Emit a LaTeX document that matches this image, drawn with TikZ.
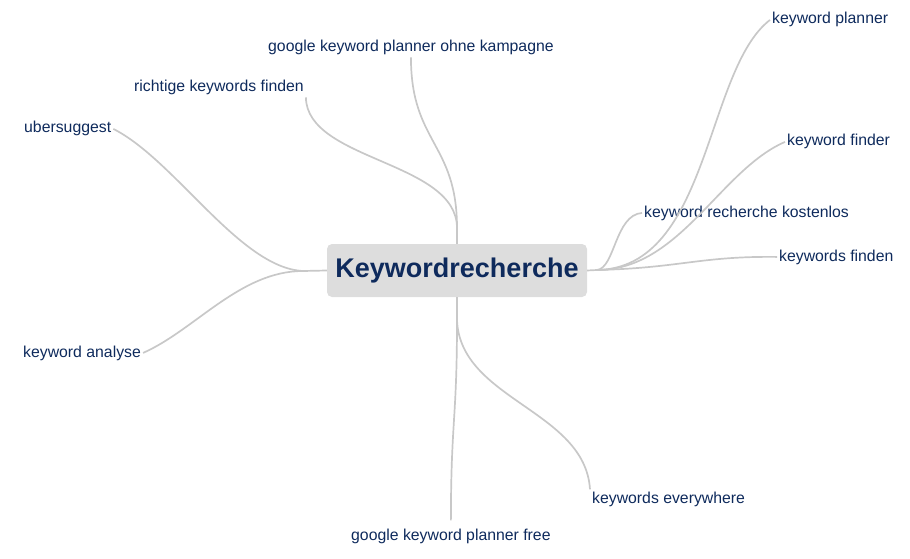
\documentclass[tikz,border=0pt]{standalone}
\usepackage{fontspec}
\setmainfont{Liberation Sans}
\definecolor{navy}{RGB}{14,42,92}
\definecolor{linkgray}{RGB}{200,200,200}
\definecolor{boxgray}{RGB}{221,221,221}
\begin{document}
\begin{tikzpicture}[x=1pt,y=-1pt,
  lbl/.style={text=navy,font=\fontsize{15.8}{18}\selectfont,inner sep=2pt,anchor=base west},
  link/.style={draw=linkgray,line width=1.7pt},
  root/.style={fill=boxgray,rounded corners=5pt,minimum width=260pt,minimum height=53pt,
    inner sep=0pt,text=navy,font=\fontsize{27}{30}\selectfont\bfseries}]
\useasboundingbox (0,0) rectangle (910,559);
\node[root] (root) at (457,270.5) {\raisebox{-1pt}{Keywordrecherche}};
% labels
\node[lbl] (ok)  at (266,52)  {google keyword planner ohne kampagne};
\node[lbl] (rk)  at (132,92)  {richtige keywords finden};
\node[lbl] (ub)  at (22,133)  {ubersuggest};
\node[lbl] (ka)  at (21,357)  {keyword analyse};
\node[lbl] (fr)  at (349,540) {google keyword planner free};
\node[lbl] (ev)  at (590,503) {keywords everywhere};
\node[lbl] (kp)  at (770,24)  {keyword planner};
\node[lbl] (kf)  at (785,146) {keyword finder};
\node[lbl] (krk) at (642,217) {keyword recherche kostenlos};
\node[lbl] (kwf) at (777,261) {keywords finden};
% junctions
\coordinate (jt) at (457,228);
\coordinate (jb) at (457,320);
\coordinate (jl) at (303,271);
\coordinate (jr) at (597,270);
% top
\draw[link] (root.north) -- (jt);
\draw[link] (jt) .. controls (457,161) and (307,161) .. (rk.south east);
\draw[link] (jt) .. controls (457,143) and (411,143) .. (ok.south);
% left
\draw[link] (root.west) -- (jl);
\draw[link] (jl) .. controls (240,268) and (175,160) .. (ub.east);
\draw[link] (jl) .. controls (240,271) and (195,330) .. (ka.east);
% right
\draw[link] (root.east) -- (jr);
\draw[link] (jr) .. controls (710,268) and (705,70) .. (kp.west);
\draw[link] (jr) .. controls (680,270) and (720,170) .. (kf.west);
\draw[link] (jr) .. controls (615,268) and (615,215) .. (krk.west);
\draw[link] (jr) .. controls (680,268) and (700,256) .. (kwf.west);
% bottom
\draw[link] (root.south) -- (jb);
\draw[link] (jb) .. controls (457,420) and (451,420) .. ([yshift=6pt]fr.north);
\draw[link] (jb) .. controls (460,400) and (585,410) .. (ev.north west);
\end{tikzpicture}
\end{document}
